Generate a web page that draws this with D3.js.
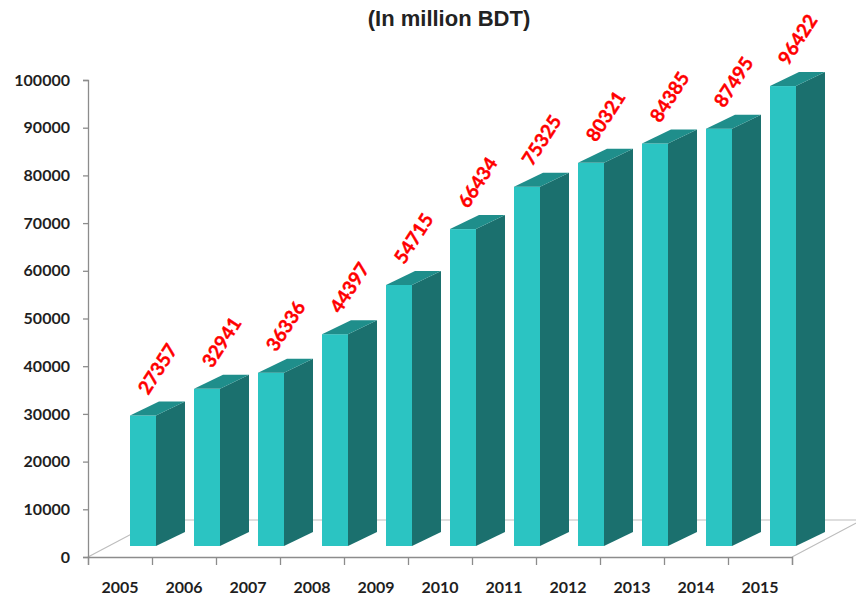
<!DOCTYPE html>
<html>
<head>
<meta charset="utf-8">
<script src="https://cdn.jsdelivr.net/npm/d3@7"></script>
<style>
  html, body { margin: 0; padding: 0; background: #fff; }
  svg { display: block; }
</style>
</head>
<body>
<svg id="chart" width="856" height="601"></svg>
<script>
// Yearly values, in million BDT
const years = ["2005", "2006", "2007", "2008", "2009", "2010", "2011", "2012", "2013", "2014", "2015"];
const values = [27357, 32941, 36336, 44397, 54715, 66434, 75325, 80321, 84385, 87495, 96422];
const yTicks = [0, 10000, 20000, 30000, 40000, 50000, 60000, 70000, 80000, 90000, 100000];
const title = "(In million BDT)";

const svg = d3.select("#chart");

// Plot frame
const plotLeft = 88, plotRight = 792, plotBottom = 557, plotTop = 80;

const x = d3.scaleBand().domain(years).range([plotLeft, plotRight]).paddingInner(0).paddingOuter(0);
const y = d3.scaleLinear().domain([0, 100000]).range([plotBottom, plotTop]);
const tickPos = d3.scaleLinear().domain([0, years.length]).range([plotLeft, plotRight]);

// 3D geometry of the bars and the floor
const barShift = 11;          // bars stand a little behind the front edge of the floor
const barOffset = 42;         // front face offset inside each band
const barW = 26;              // front face width
const depth = { dx: 29, dy: -14 };
const floorDepth = { dx: 70, dy: -37 };

const colors = {
  front: "#2bc4c2",
  side: "#1b706e",
  top: "#1f8e8b",
  label: "#ff0000",
  text: "#1f1f1f",
  axis: "#8c8c8c",
  floor: "#bdbdbd"
};

// Title
svg.append("text")
  .attr("x", 449).attr("y", 26)
  .attr("text-anchor", "middle")
  .attr("font-family", "'Liberation Sans', Arial, sans-serif")
  .attr("font-weight", "bold")
  .attr("font-size", 22)
  .attr("fill", "#222")
  .text(title);

// Floor outline
svg.append("path")
  .attr("fill", "none").attr("stroke", colors.floor).attr("stroke-width", 1.2)
  .attr("d", d3.line()([
    [plotLeft, plotBottom],
    [plotLeft + floorDepth.dx, plotBottom + floorDepth.dy],
    [plotRight + floorDepth.dx, plotBottom + floorDepth.dy],
    [plotRight, plotBottom]
  ]));

// Y axis
const yAxis = svg.append("g")
  .attr("transform", `translate(${plotLeft},0)`)
  .call(d3.axisLeft(y).tickValues(yTicks).tickSize(5).tickPadding(13).tickFormat(d3.format("d")));
yAxis.select(".domain").attr("stroke", colors.axis).attr("stroke-width", 1.3);
yAxis.selectAll(".tick line").attr("stroke", colors.axis).attr("stroke-width", 1.3);
yAxis.selectAll(".tick text")
  .attr("font-family", "Lato, 'Open Sans', sans-serif")
  .attr("font-weight", "bold")
  .attr("font-size", 16)
  .attr("fill", colors.text);

// X axis: tick marks at band edges
const xTicks = svg.append("g")
  .attr("transform", `translate(0,${plotBottom})`)
  .call(d3.axisBottom(tickPos).tickValues(d3.range(years.length + 1)).tickSize(8).tickFormat(""));
xTicks.select(".domain").attr("stroke", colors.axis).attr("stroke-width", 1.3);
xTicks.selectAll(".tick line").attr("stroke", colors.axis).attr("stroke-width", 1.3);

// X axis: year labels at band centres
const xLabels = svg.append("g")
  .attr("transform", `translate(0,${plotBottom})`)
  .call(d3.axisBottom(x).tickSize(0).tickPadding(25));
xLabels.select(".domain").remove();
xLabels.selectAll(".tick text")
  .attr("font-family", "Lato, 'Open Sans', sans-serif")
  .attr("font-weight", "bold")
  .attr("font-size", 16)
  .attr("fill", colors.text);

// Bars
const data = years.map((yr, i) => ({ year: yr, value: values[i] }));
const bars = svg.append("g").selectAll("g.bar").data(data).join("g").attr("class", "bar");

const x0 = d => x(d.year) + barOffset;
const yTop = d => y(d.value) - barShift;
const yBase = y(0) - barShift;

bars.append("rect")
  .attr("x", x0)
  .attr("y", yTop)
  .attr("width", barW)
  .attr("height", d => yBase - yTop(d))
  .attr("fill", colors.front);

bars.append("path")
  .attr("fill", colors.side)
  .attr("d", d => d3.line()([
    [x0(d) + barW, yTop(d)],
    [x0(d) + barW + depth.dx, yTop(d) + depth.dy],
    [x0(d) + barW + depth.dx, yBase + depth.dy],
    [x0(d) + barW, yBase]
  ]) + "Z");

bars.append("path")
  .attr("fill", colors.top)
  .attr("d", d => d3.line()([
    [x0(d), yTop(d)],
    [x0(d) + barW, yTop(d)],
    [x0(d) + barW + depth.dx, yTop(d) + depth.dy],
    [x0(d) + depth.dx, yTop(d) + depth.dy]
  ]) + "Z");

// Value labels, rotated
bars.append("text")
  .attr("transform", d => `translate(${x0(d) + 27},${yTop(d) - 47}) rotate(-57)`)
  .attr("text-anchor", "middle")
  .attr("dominant-baseline", "central")
  .attr("font-family", "Lato, 'Open Sans', sans-serif")
  .attr("font-weight", "bold")
  .attr("font-size", 19)
  .attr("fill", colors.label)
  .attr("stroke", colors.label)
  .attr("stroke-width", 0.4)
  .text(d => d.value);
</script>
</body>
</html>
